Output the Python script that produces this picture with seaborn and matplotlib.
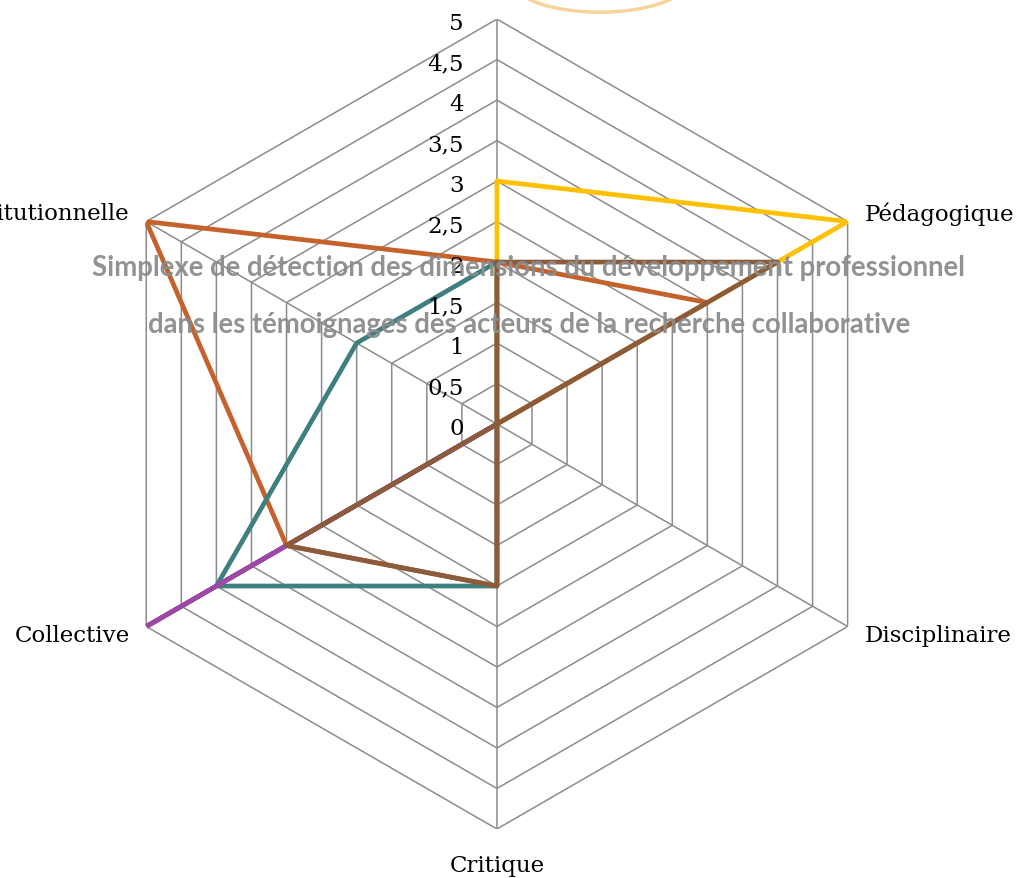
import numpy as np
import matplotlib
matplotlib.use("Agg")
import matplotlib.pyplot as plt
from matplotlib.patches import Ellipse
import seaborn as sns

sns.set_theme(style="white")

# Axes of the radar, clockwise from the top (the top label is cut off in the source)
dimensions = ['Personnelle', 'Pédagogique', 'Disciplinaire', 'Critique',
              'Collective', 'Institutionnelle']

# One list of scores per series, same order as dimensions
serie_jaune = [3, 5, 0, 0, 0, 0]
serie_orange = [2, 3, 0, 2, 3, 5]
serie_bleue = [2, 0, 0, 2, 4, 2]
serie_violette = [0, 0, 0, 0, 5, 0]
serie_brune = [2, 4, 0, 2, 3, 0]

series = [serie_jaune, serie_orange, serie_bleue, serie_violette, serie_brune]
colors = ['#FFC000', '#C5622B', '#3F7F80', '#9E48A6', '#8B5B3A']

ticks = [0, 0.5, 1, 1.5, 2, 2.5, 3, 3.5, 4, 4.5, 5]
tick_labels = ['0', '0,5', '1', '1,5', '2', '2,5', '3', '3,5', '4', '4,5', '5']

title_1 = "Simplexe de détection des dimensions du développement professionnel"
title_2 = "dans les témoignages des acteurs de la recherche collaborative"

N = len(dimensions)
angles = np.linspace(0, 2 * np.pi, N, endpoint=False)
closed = np.append(angles, angles[0])

fig = plt.figure(figsize=(10.2, 8.79), dpi=100)
ax = fig.add_axes([0.0902, 0.0557, 0.794, 0.9215], projection='polar')
ax.set_theta_offset(np.pi / 2)
ax.set_theta_direction(-1)
ax.set_ylim(0, 5)
ax.grid(False)
ax.spines['polar'].set_visible(False)
ax.set_xticks([])
ax.set_yticks([])
ax.patch.set_alpha(0)

grid_color = '#8C8C8C'
# hexagonal gridlines
for r in ticks[1:]:
    ax.plot(closed, [r] * (N + 1), color=grid_color, lw=1.1, zorder=1)
# spokes
for a in angles:
    ax.plot([a, a], [0, 5], color=grid_color, lw=1.1, zorder=1)

# series
for vals, col in zip(series, colors):
    v = np.append(vals, vals[0])
    sns.lineplot(x=closed, y=v, ax=ax, sort=False, estimator=None,
                 color=col, lw=3.4, zorder=3)
ax.set_xlabel('')
ax.set_ylabel('')
ax.set_ylim(0, 5)

serif = 'DejaVu Serif'
# value labels on the top spoke
for t, lab in zip(ticks, tick_labels):
    ax.annotate(lab, xy=(0, t), xytext=(-24, -3), textcoords='offset points',
                ha='right', va='center', fontsize=16.5, family=serif,
                color='black', zorder=4)

# dimension labels
offsets = {1: (12, 6, 'left'), 2: (12, -6, 'left'), 3: (0, -26, 'center'),
           4: (-12, -6, 'right'), 5: (-12, 6, 'right')}
for i, name in enumerate(dimensions):
    if i == 0:
        continue
    dx, dy, ha = offsets[i]
    ax.annotate(name, xy=(angles[i], 5), xytext=(dx, dy),
                textcoords='offset points', ha=ha, va='center',
                fontsize=16.5, family=serif, color='black',
                annotation_clip=False)

# title overlaid on the chart
fig.text(0.518, 1 - 268 / 879, title_1, ha='center', va='center',
         fontsize=19.8, fontweight='bold', family='Lato', color='#8C8C8C',
         alpha=0.95, zorder=5)
fig.text(0.519, 1 - 325 / 879, title_2, ha='center', va='center',
         fontsize=19.8, fontweight='bold', family='Lato', color='#8C8C8C',
         alpha=0.95, zorder=5)

# faint orange arc cropped at the top edge
fig.patches.append(Ellipse((0.588, 1.02), 0.17, 0.07, transform=fig.transFigure,
                           fill=False, edgecolor='#F2B04A', lw=2.5, alpha=0.55))

fig.savefig('out.png', dpi=100)
